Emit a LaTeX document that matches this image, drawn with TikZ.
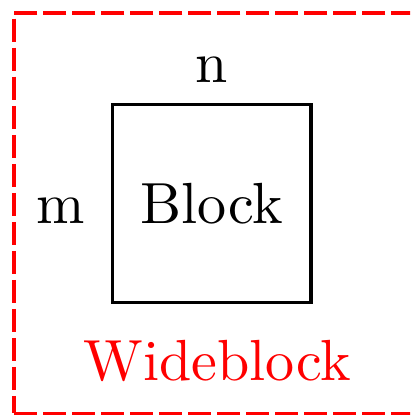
\documentclass[tikz,border=0pt]{standalone}
\usepackage{xcolor}
\usepackage{tikz}
\usetikzlibrary{positioning, calc}
\tikzset{
  blockbox/.style={
    draw=black, semithick,
    minimum size=1.2cm, inner sep=0pt,
  },
  widebox/.style={
    draw=red, semithick, dash pattern=on 4pt off 1pt,
    inner sep=0pt,
  },
  lbl/.style={inner sep=3.33pt},
  widelbl/.style={text=red, inner sep=3.33pt},
}

\begin{document}
\begin{tikzpicture}

% cadre fixe, la boite rouge deborde a droite
\useasboundingbox (-36.5pt,-36.6pt) rectangle (34.2pt,35.1pt);
\clip (-36.5pt,-36.6pt) rectangle (34.2pt,35.1pt);

\node[blockbox] (block) at (0,0) {Block};

\node[lbl, above=0pt of block] (n) {n};
\node[lbl, anchor=base east, xshift=-1pt] (m) at (block.base west) {m};

\node[widelbl, below=2.7pt of block, xshift=1pt] (widelabel) {Wideblock};

% boite large en pointilles
\node[widebox, minimum width=80pt, minimum height=69pt, anchor=north west]
  (wide) at ($(block.north west)+(-17pt,15.8pt)$) {};

\end{tikzpicture}
\end{document}
